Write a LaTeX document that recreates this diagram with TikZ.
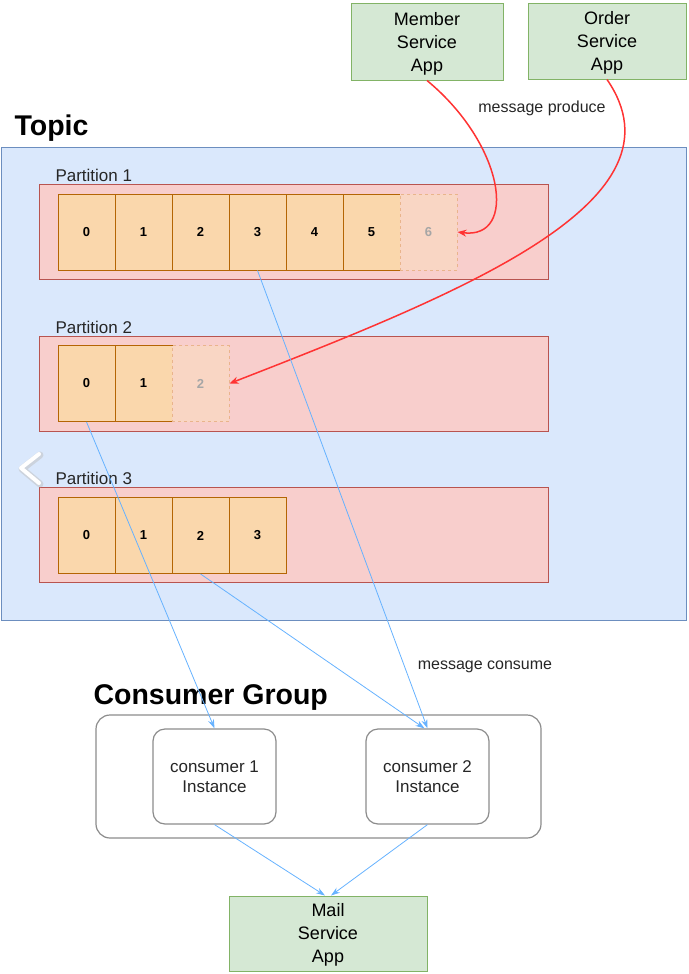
\documentclass[tikz,border=0pt]{standalone}
\usepackage{fontspec}
\setmainfont{Liberation Sans}
\usetikzlibrary{arrows.meta,positioning}

\definecolor{appfill}{HTML}{D5E8D4}
\definecolor{appborder}{HTML}{82B366}
\definecolor{topicfill}{HTML}{DAE8FC}
\definecolor{topicborder}{HTML}{6C8EBF}
\definecolor{partfill}{HTML}{F8CECC}
\definecolor{partborder}{HTML}{B85450}
\definecolor{cellfill}{HTML}{FAD7AC}
\definecolor{cellborder}{HTML}{B46504}
\definecolor{ghostfill}{HTML}{F9D6C4}
\definecolor{ghostborder}{HTML}{E9B48C}
\definecolor{produce}{HTML}{FF3333}
\definecolor{consume}{HTML}{66B2FF}
\definecolor{groupborder}{HTML}{8C8C8C}

\begin{document}
\begin{tikzpicture}[x=1pt, y=-1pt,
    app/.style={rectangle, draw=appborder, fill=appfill, line width=1pt,
        align=center, inner sep=0pt, font=\fontsize{18}{23}\selectfont},
    topic/.style={rectangle, draw=topicborder, fill=topicfill, line width=1pt,
        minimum width=685, minimum height=473},
    partition/.style={rectangle, draw=partborder, fill=partfill, line width=1pt,
        minimum width=509, minimum height=95},
    cell/.style={rectangle, draw=cellborder, fill=cellfill, line width=0.9pt,
        minimum width=57, minimum height=76, inner sep=0pt,
        font=\bfseries\fontsize{13}{15}\selectfont},
    ghostcell/.style={cell, draw=ghostborder, fill=ghostfill, dashed,
        text=gray!70},
    heading/.style={anchor=west, font=\bfseries\fontsize{28.5}{33}\selectfont},
    plabel/.style={anchor=west, text=black!85, font=\fontsize{17}{20}\selectfont},
    note/.style={text=black!85, font=\fontsize{16}{19}\selectfont},
    group/.style={rectangle, draw=groupborder, fill=white, line width=1.2pt,
        rounded corners=14pt, minimum width=445, minimum height=123},
    consumer/.style={rectangle, draw=groupborder, fill=white, line width=1.2pt,
        rounded corners=12pt, minimum width=123, minimum height=95,
        align=center, text=black!85, font=\fontsize{17}{20}\selectfont},
    producearrow/.style={draw=produce, line width=1.5pt,
        -{Stealth[length=9pt,width=7pt]}},
    consumearrow/.style={draw=consume, line width=0.8pt,
        -{Stealth[length=9pt,width=6pt]}}
]
\useasboundingbox (0,0) rectangle (688,974);

\node (member) [app, minimum width=152, minimum height=76] at (427,42) {\strut Member\\Service\\App};
\node (order) [app, minimum width=158, minimum height=75] at (607,41.5) {\strut Order\\Service\\App};
\node (produce) [note] at (542,108) {message produce};

\node (topiclbl) [heading] at (11,128) {Topic};
\node (topic) [topic] at (343.5,383.5) {};

\node (part1) [partition] at (293.5,231.5) {};
\node (part1lbl) [plabel] at (52,175) {Partition 1};
\foreach \i in {0,...,5}
  \node (p1c\i) [cell] at (86.5+57*\i,232) {\i};
\node (p1c6) [ghostcell] at (428.5,232) {6};

\node (part2) [partition] at (293.5,383.5) {};
\node (part2lbl) [plabel] at (52,327) {Partition 2};
\foreach \i in {0,1}
  \node (p2c\i) [cell] at (86.5+57*\i,383.5) {\i};
\node (p2c2) [ghostcell] at (200.5,383.5) {2};

\node (part3) [partition] at (293.5,535) {};
\node (part3lbl) [plabel] at (52,478) {Partition 3};
\foreach \i in {0,...,3}
  \node (p3c\i) [cell] at (86.5+57*\i,535.5) {\i};

\draw[gray!50, line width=7pt, line cap=round, line join=round, opacity=0.5]
  (40,455) -- (22,469) -- (40,484);
\draw[white, line width=4pt, line cap=round, line join=round]
  (39,454) -- (21,468) -- (39,483);

\node (consume) [note] at (485,667) {message consume};
\node (grouplbl) [heading] at (90,697) {Consumer Group};
\node (group) [group] at (318.5,776.5) {};
\node (cons1) [consumer] at (214.5,776.5) {consumer 1\\Instance};
\node (cons2) [consumer] at (427.5,776.5) {consumer 2\\Instance};

\node (mail) [app, minimum width=198, minimum height=75] at (328,933.5) {\strut Mail\\Service\\App};

\draw[producearrow] (member.south) .. controls (505,145) and (518,240) .. (p1c6.east);
\draw[producearrow] (order.south) .. controls (690,200) and (470,290) .. (p2c2.east);

\draw[consumearrow] (p1c3.south) -- (cons2.north);
\draw[consumearrow] (p2c0.south) -- (cons1.north);
\draw[consumearrow] (p3c2.south) -- ([xshift=-3pt]cons2.north);
\draw[consumearrow] (cons1.south) -- ([xshift=-3pt]mail.north);
\draw[consumearrow] (cons2.south) -- ([xshift=3pt]mail.north);
\end{tikzpicture}
\end{document}
